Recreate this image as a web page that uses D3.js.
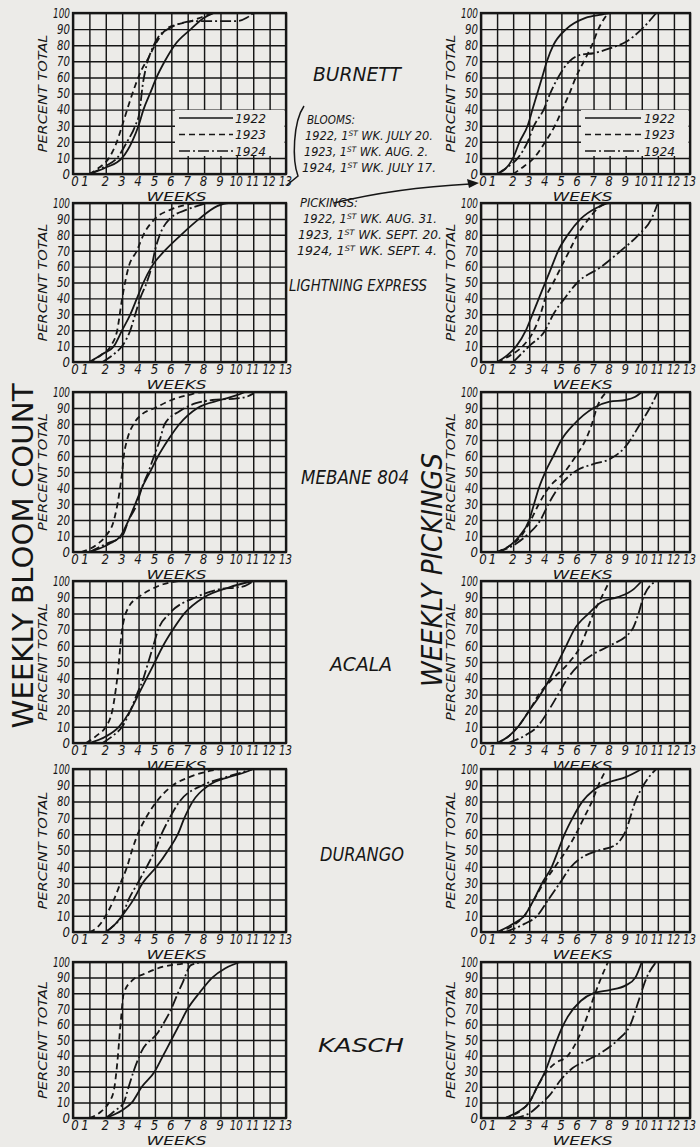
<!DOCTYPE html>
<html>
<head>
<meta charset="utf-8">
<script src="https://cdn.jsdelivr.net/npm/d3@7"></script>
<style>
  body { margin: 0; background: #ecebe8; }
  svg text { font-family: "DejaVu Sans", sans-serif; fill: #161616; }
</style>
</head>
<body>
<svg id="chart" width="700" height="1147"></svg>
<script>
// cumulative percent of total: [week, percent]
const burBl22 = [[1,0],[2,4],[3,10],[3.6,20],[4,30],[4.3,40],[4.7,50],[5.1,60],[5.6,70],[6.2,80],[7.2,90],[8,97],[8.6,100]];
const burBl23 = [[1,0],[1.6,4],[2.2,10],[2.6,18],[3,30],[3.4,43],[3.8,55],[4.2,65],[4.6,72],[5,80],[5.7,90],[6.4,93],[7.2,95],[8,98],[8.6,100]];
const burBl24 = [[1,0],[2,5],[2.7,10],[3.3,20],[3.8,30],[4.05,38],[4.25,55],[4.5,68],[4.8,77],[5.2,85],[5.8,90],[6.4,93],[7.5,95],[8.5,95],[10,95],[10.6,97],[11,100]];

const burPk22 = [[1,0],[1.5,3],[2,10],[2.4,20],[2.9,30],[3.2,40],[3.5,50],[3.8,60],[4.1,70],[4.5,80],[5.3,90],[6.5,97],[7.5,99],[8.1,100],[10,100]];
const burPk23 = [[2,0],[2.7,5],[3.3,10],[4,20],[4.6,30],[5.05,40],[5.5,50],[5.9,60],[6.4,70],[6.9,80],[7.3,90],[7.9,100]];
const burPk24 = [[1,0],[1.6,4],[2.3,10],[2.9,20],[3.3,30],[3.9,40],[4.3,50],[4.8,60],[5.5,70],[6.2,74],[7,75],[8,78],[9,82],[10,90],[10.9,100]];

const ligBl22 = [[1,0],[1.8,5],[2.5,10],[3,20],[3.5,30],[3.9,40],[4.3,50],[4.8,60],[5.6,70],[6.6,80],[7.7,90],[8.8,98],[9.5,100],[10,100]];
const ligBl23 = [[1,0],[1.8,5],[2.3,10],[2.7,20],[3,40],[3.4,60],[3.9,70],[4.3,80],[5,90],[6,96],[7,99],[7.5,100]];
const ligBl24 = [[1.8,0],[2.5,5],[3,10],[3.5,20],[3.8,30],[4.1,40],[4.5,50],[4.8,60],[5,70],[5.3,80],[5.9,90],[7,96],[8.2,100]];

const ligPk22 = [[1,0],[1.6,4],[2.2,10],[2.8,20],[3.2,30],[3.6,40],[4,50],[4.4,60],[4.8,70],[5.4,80],[6.2,90],[7.2,97],[8,100],[10,100]];
const ligPk23 = [[1,0],[1.8,4],[2.6,10],[3.3,20],[3.7,30],[4,40],[4.5,50],[5,60],[5.5,70],[6,80],[6.7,90],[7.3,97],[7.8,100]];
const ligPk24 = [[2,0],[2.5,5],[3,10],[4,20],[4.5,30],[5.2,40],[6,50],[7.5,60],[8.7,70],[9.8,80],[10.6,90],[11,100]];

const mebBl22 = [[1,0],[2.2,5],[2.9,10],[3.4,20],[3.8,30],[4.2,40],[4.7,50],[5.2,60],[5.8,70],[6.5,80],[7.6,90],[9,95],[10,98],[10.5,100]];
const mebBl23 = [[0.5,0],[1.5,5],[2,10],[2.5,20],[2.8,35],[3,50],[3.1,60],[3.3,70],[3.7,80],[4.2,86],[5,90],[6,95],[7,98],[8,100],[10,100]];
const mebBl24 = [[1,0],[2,5],[3,10],[3.4,20],[3.9,30],[4.2,40],[4.6,50],[4.95,60],[5.3,70],[5.6,80],[6.5,88],[7.5,93],[8.5,95],[10,96],[10.6,97],[11,99]];

const mebPk22 = [[1,0],[1.8,4],[2.4,10],[3,20],[3.3,30],[3.6,40],[4,50],[4.5,60],[5,70],[5.8,80],[7,90],[8,94],[9,95],[9.6,97],[10,100]];
const mebPk23 = [[1,0],[1.8,4],[2.5,10],[3.1,20],[3.6,30],[4.2,40],[5.2,50],[5.9,60],[6.5,70],[6.9,80],[7.2,90],[7.8,100]];
const mebPk24 = [[1,0],[2,4],[2.8,10],[3.7,20],[4.2,30],[4.8,40],[5.8,50],[7,55],[8,58],[9,66],[9.9,80],[10.5,90],[11,100]];

const acaBl22 = [[1,0],[2,4],[2.8,10],[3.5,20],[4,30],[4.5,40],[5,50],[5.5,60],[6.1,70],[6.8,80],[8,90],[9.5,96],[11,100]];
const acaBl23 = [[0.8,0],[1.5,5],[2,10],[2.4,20],[2.7,40],[3,70],[3.4,84],[4,90],[4.8,95],[5.5,98],[6.5,100]];
const acaBl24 = [[1.8,0],[2.5,5],[3,10],[3.5,20],[3.9,30],[4.3,40],[4.6,50],[4.9,60],[5.2,70],[5.9,80],[7.5,90],[9,95],[10,96],[10.5,97],[11,100]];

const acaPk22 = [[1,0],[1.7,4],[2.3,10],[3,20],[3.7,30],[4.3,40],[4.8,50],[5.3,60],[5.8,70],[6.7,80],[7.5,87],[8.5,90],[9.5,95],[10,100]];
const acaPk23 = [[1,0],[1.7,4],[2.3,10],[3,20],[3.6,30],[4.5,40],[5.5,50],[6.2,60],[6.6,70],[7,80],[7.5,90],[8,100]];
const acaPk24 = [[1.7,0],[2.8,5],[3.5,10],[4.2,20],[4.8,30],[5.4,40],[6.3,50],[7,55],[8,60],[9.4,70],[9.8,80],[10.1,90],[10.9,100]];

const durBl22 = [[2,0],[2.5,4],[3,10],[3.7,20],[4.25,30],[5.1,40],[5.8,50],[6.4,60],[6.8,70],[7.3,80],[8.3,90],[9.5,95],[10.5,98],[11,100]];
const durBl23 = [[1,0],[1.5,3],[2,10],[2.5,20],[2.9,30],[3.3,40],[3.6,50],[3.95,60],[4.45,70],[5.1,80],[6.1,90],[7.1,95],[8,98],[9,100]];
const durBl24 = [[2,0],[2.5,4],[3,10],[3.4,20],[3.95,30],[4.5,40],[5,50],[5.4,60],[5.9,70],[6.5,80],[7.9,90],[9,94],[10,97],[11,100]];

const durPk22 = [[1,0],[2,5],[2.7,10],[3.3,20],[3.8,30],[4.4,40],[4.8,50],[5.2,60],[5.7,70],[6.3,80],[7,87],[8,92],[9,95],[10,100]];
const durPk23 = [[1,0],[2,4],[2.7,10],[3.3,20],[3.9,30],[4.6,40],[5.3,50],[5.9,60],[6.4,70],[6.9,80],[7.3,90],[7.8,100]];
const durPk24 = [[1.5,0],[2.7,5],[3.5,10],[4.2,20],[4.9,30],[5.6,40],[6.5,47],[7.3,50],[8.3,53],[9,62],[9.6,80],[10.1,90],[10.9,100]];

const kasBl22 = [[2,0],[3,5],[3.6,10],[4.2,20],[5,30],[5.5,40],[6,50],[6.5,60],[7,70],[7.7,80],[8.5,90],[9.3,96],[10.2,100]];
const kasBl23 = [[1,0],[1.7,4],[2.2,10],[2.5,18],[2.7,35],[2.9,60],[3.1,80],[3.6,88],[4.5,93],[5.5,97],[6.7,99],[7.2,100]];
const kasBl24 = [[2,0],[2.6,5],[3.1,10],[3.4,20],[3.7,30],[4.2,43],[5.2,55],[5.6,62],[6,70],[6.4,80],[6.7,87],[7.2,98],[8,100]];

const kasPk22 = [[1.5,0],[2.3,4],[3,10],[3.5,20],[4,30],[4.5,44],[5,57],[5.4,65],[6.2,75],[7,80],[8,82],[9,85],[9.6,90],[10,100]];
const kasPk23 = [[1.5,0],[2.5,5],[3,10],[3.5,20],[4.1,30],[4.6,35],[5.4,40],[6,50],[6.6,65],[7,77],[7.4,88],[7.9,100]];
const kasPk24 = [[2,0],[3,3],[3.6,8],[4.3,15],[5,25],[5.7,32],[6.6,37],[7.5,42],[8.5,50],[9.3,60],[9.8,75],[10.3,90],[10.9,100]];

const weekTicks = d3.range(0, 14);
const pctTicks = d3.range(0, 101, 10);
const years = ["1922", "1923", "1924"];
const varieties = ["BURNETT", "LIGHTNING EXPRESS", "MEBANE 804", "ACALA", "DURANGO", "KASCH"];

const bloomCurves = [
  [burBl22, burBl23, burBl24], [ligBl22, ligBl23, ligBl24], [mebBl22, mebBl23, mebBl24],
  [acaBl22, acaBl23, acaBl24], [durBl22, durBl23, durBl24], [kasBl22, kasBl23, kasBl24]
];
const pickCurves = [
  [burPk22, burPk23, burPk24], [ligPk22, ligPk23, ligPk24], [mebPk22, mebPk23, mebPk24],
  [acaPk22, acaPk23, acaPk24], [durPk22, durPk23, durPk24], [kasPk22, kasPk23, kasPk24]
];

// layout of the plate
const rowTop = [13, 203, 392, 581, 769, 962];
const rowBottom = [174, 362, 552, 743, 932, 1118];
const colX = [[73, 286], [481, 690]];
const dashes = [null, "6,4", "11,3,2,3"];
const labelWidth = [0, 7.5, 13, 17];
const ink = "#161616";
const paper = "#ecebe8";

const svg = d3.select("#chart");
svg.append("rect").attr("width", 700).attr("height", 1147).attr("fill", paper);

function drawPanel(col, row, curves) {
  const [left, right] = colX[col];
  const top = rowTop[row], bottom = rowBottom[row];
  const x = d3.scaleLinear().domain([0, 13]).range([left, right]);
  const y = d3.scaleLinear().domain([0, 100]).range([bottom, top]);
  const g = svg.append("g");

  // grid from the axes
  const gx = g.append("g")
    .attr("transform", `translate(0,${bottom})`)
    .call(d3.axisBottom(x).tickValues(weekTicks).tickSize(-(bottom - top)).tickPadding(5));
  const gy = g.append("g")
    .attr("transform", `translate(${left},0)`)
    .call(d3.axisLeft(y).tickValues(pctTicks).tickSize(-(right - left)).tickPadding(3));
  [gx, gy].forEach(a => {
    a.select(".domain").remove();
    a.selectAll("line").attr("stroke", ink).attr("stroke-width", 1.45);
    a.selectAll("text")
      .attr("fill", ink)
      .style("font-size", "13.5px")
      .style("font-style", "italic")
      .attr("lengthAdjust", "spacingAndGlyphs")
      .attr("textLength", d => labelWidth[String(d).length]);
  });
  gx.selectAll("text").attr("dx", d => d === 0 ? 1.5 : d === 1 ? -5 : -1).attr("dy", "0.5em");

  g.append("rect")
    .attr("x", left).attr("y", top)
    .attr("width", right - left).attr("height", bottom - top)
    .attr("fill", "none").attr("stroke", ink).attr("stroke-width", 2.3);

  // legend on the top plates
  if (row === 0) {
    const lx = col === 0 ? 175 : 581;
    g.append("rect").attr("x", lx).attr("y", 110).attr("width", right - lx - 1.5).attr("height", 46)
      .attr("fill", paper);
    years.forEach((yr, i) => {
      const ly = 118 + i * 16.5;
      g.append("line")
        .attr("x1", lx + 4).attr("x2", lx + (col === 0 ? 58 : 60))
        .attr("y1", ly).attr("y2", ly)
        .attr("stroke", ink).attr("stroke-width", 1.5)
        .attr("stroke-dasharray", dashes[i]);
      g.append("text")
        .attr("x", lx + (col === 0 ? 60 : 63)).attr("y", ly + 4.5)
        .style("font-size", "12.5px").style("font-style", "italic")
        .attr("textLength", 31).attr("lengthAdjust", "spacingAndGlyphs")
        .text(yr);
    });
  }

  const line = d3.line()
    .x(d => x(d[0]))
    .y(d => y(d[1]))
    .curve(d3.curveMonotoneX);
  curves.forEach((c, i) => {
    g.append("path")
      .datum(c)
      .attr("d", line)
      .attr("fill", "none")
      .attr("stroke", ink)
      .attr("stroke-width", 1.8)
      .attr("stroke-dasharray", dashes[i]);
  });

  // axis titles
  g.append("text")
    .attr("transform", `translate(${col === 0 ? 47 : 455},${(top + bottom) / 2}) rotate(-90)`)
    .attr("text-anchor", "middle")
    .style("font-size", "12.5px").style("font-style", "italic")
    .attr("textLength", 118).attr("lengthAdjust", "spacingAndGlyphs")
    .text("PERCENT TOTAL");
  g.append("text")
    .attr("x", (left + right) / 2 - 3).attr("y", Math.min(bottom + 27, 1145))
    .attr("text-anchor", "middle")
    .style("font-size", "12.5px").style("font-style", "italic")
    .attr("textLength", 60).attr("lengthAdjust", "spacingAndGlyphs")
    .text("WEEKS");
}

bloomCurves.forEach((c, r) => drawPanel(0, r, c));
pickCurves.forEach((c, r) => drawPanel(1, r, c));

// variety names between the columns: [centre x, baseline, width, size]
const nameSpots = [[357, 81, 88, 19], [358, 291, 138, 16.5], [355, 484, 108, 19], [361, 671, 62, 19], [362, 861, 84, 19], [361, 1052, 86, 19]];
varieties.forEach((v, i) => {
  const [cx, by, w, fs] = nameSpots[i];
  svg.append("text")
    .attr("x", cx).attr("y", by)
    .attr("text-anchor", "middle")
    .style("font-size", fs + "px").style("font-style", "italic")
    .attr("textLength", w).attr("lengthAdjust", "spacingAndGlyphs")
    .text(v);
});

// big side titles
svg.append("text")
  .attr("transform", "translate(33,556) rotate(-90)")
  .attr("text-anchor", "middle")
  .style("font-size", "29px")
  .attr("textLength", 345).attr("lengthAdjust", "spacingAndGlyphs")
  .text("WEEKLY BLOOM COUNT");
svg.append("text")
  .attr("transform", "translate(442,570) rotate(-90)")
  .attr("text-anchor", "middle")
  .style("font-size", "28px").style("font-style", "italic")
  .attr("textLength", 234).attr("lengthAdjust", "spacingAndGlyphs")
  .text("WEEKLY PICKINGS");

// first-week notes
function note(xp, yp, w, parts) {
  const t = svg.append("text").attr("x", xp).attr("y", yp)
    .style("font-size", "11.5px").style("font-style", "italic")
    .attr("textLength", w).attr("lengthAdjust", "spacingAndGlyphs");
  t.append("tspan").text(parts[0]);
  if (parts.length > 1) {
    t.append("tspan").attr("dy", -4).style("font-size", "7.5px").text("ST");
    t.append("tspan").attr("dy", 4).text(parts[1]);
  }
}
note(307, 124, 48, ["BLOOMS:"]);
note(305, 140, 128, ["1922, 1", " WK. JULY 20."]);
note(304, 156, 124, ["1923, 1", " WK. AUG.  2."]);
note(302, 172, 134, ["1924, 1", " WK. JULY 17."]);
note(300, 207, 58, ["PICKINGS:"]);
note(303, 223, 134, ["1922, 1", " WK. AUG. 31."]);
note(298, 239, 144, ["1923, 1", " WK. SEPT. 20."]);
note(297, 255, 140, ["1924, 1", " WK. SEPT.  4."]);

// brace from the bloom plate and arrow to the picking plate
svg.append("path")
  .attr("d", "M304,106 C293,122 292,160 298,176 L287,185")
  .attr("fill", "none").attr("stroke", ink).attr("stroke-width", 1.5);
svg.append("path")
  .attr("d", "M334,203 Q395,188 470,184")
  .attr("fill", "none").attr("stroke", ink).attr("stroke-width", 1.5);
svg.append("path")
  .attr("d", "M479,183 L467,179 L469,188 Z")
  .attr("fill", ink);
</script>
</body>
</html>
